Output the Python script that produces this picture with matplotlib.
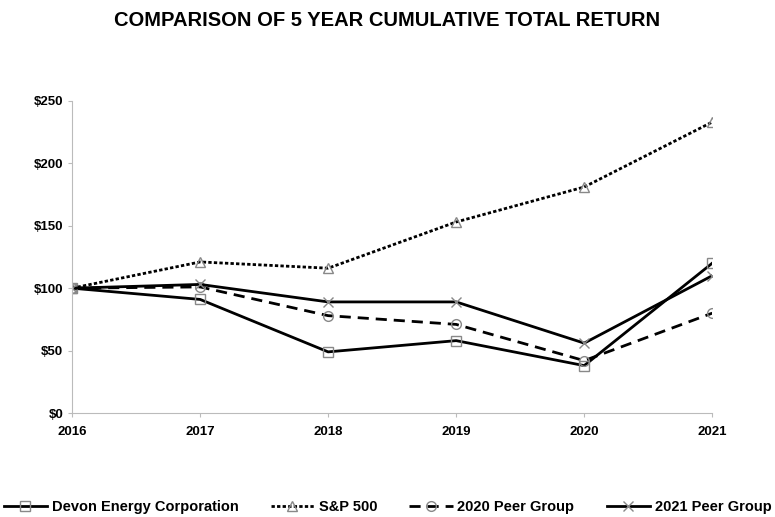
import matplotlib.pyplot as plt

plt.rcParams['font.family'] = ['Liberation Sans', 'DejaVu Sans']
plt.rcParams['font.weight'] = 'bold'

years = [2016, 2017, 2018, 2019, 2020, 2021]
devon = [100, 91, 49, 58, 38, 120]
sp500 = [100, 121, 116, 153, 181, 233]
peer_2020 = [100, 101, 78, 71, 42, 80]
peer_2021 = [100, 103, 89, 89, 56, 110]

fig = plt.figure(figsize=(7.75, 5.17), dpi=100)
ax = fig.add_axes([0.093, 0.201, 0.826, 0.604])

mk = dict(markersize=7, markerfacecolor='none', markeredgecolor='#888888', markeredgewidth=1)
ax.plot(years, devon, color='black', lw=2, marker='s', label='Devon Energy Corporation', **mk)
ax.plot(years, sp500, color='black', lw=2, ls=(0, (1.2, 0.8)), marker='^', label='S&P 500', **mk)
ax.plot(years, peer_2020, color='black', lw=2, ls=(0, (4, 2.5)), marker='o', label='2020 Peer Group', **mk)
ax.plot(years, peer_2021, color='black', lw=2, marker='x', label='2021 Peer Group', **mk)

ax.set_xlim(2016, 2021)
ax.set_ylim(0, 250)
ax.set_xticks(years)
ax.set_yticks([0, 50, 100, 150, 200, 250])
ax.set_yticklabels(['$0', '$50', '$100', '$150', '$200', '$250'])
for s in ['top', 'right']:
    ax.spines[s].set_visible(False)
for s in ['left', 'bottom']:
    ax.spines[s].set_color('#bbbbbb')
ax.tick_params(colors='#bbbbbb', labelcolor='black', labelsize=9.5, length=3)
ax.tick_params(axis='x', pad=6)

fig.text(0.5, 0.961, 'COMPARISON OF 5 YEAR CUMULATIVE TOTAL RETURN',
         ha='center', va='center', fontsize=14.5, fontweight='bold')

fig.legend(loc='center', bbox_to_anchor=(0.5, 0.02), ncol=4, frameon=False,
           fontsize=10.5, handlelength=3, columnspacing=2.2, handletextpad=0.3)

fig.savefig('out.png', dpi=100)
